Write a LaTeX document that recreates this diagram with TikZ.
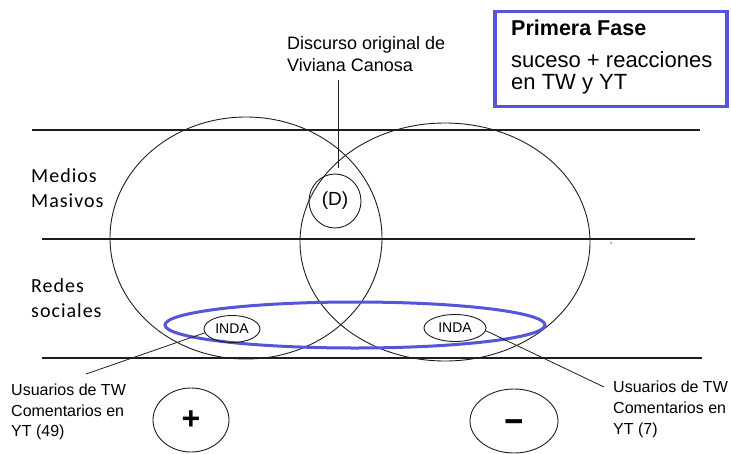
\documentclass[tikz,border=0pt]{standalone}
\usepackage{fontspec}
\setmainfont{Liberation Sans}
\newfontfamily\calfont[LetterSpace=5]{Carlito}
\usetikzlibrary{shapes.geometric}
\definecolor{bl}{RGB}{85,85,215}
\definecolor{ln}{RGB}{30,30,30}
\tikzset{
  oval/.style={ellipse, draw=ln, line width=0.9pt, inner sep=0pt},
  hline/.style={draw=ln, line width=1.2pt},
  lbl/.style={inner sep=0pt, anchor=base west},
  lead/.style={draw=ln, line width=0.8pt},
  fbox/.style={font=\fontsize{22}{22}\selectfont},
  fdisc/.style={font=\fontsize{18}{18}\selectfont},
  fside/.style={font=\calfont\fontsize{20}{20}\selectfont},
  fsmall/.style={font=\fontsize{16}{16}\selectfont},
}
\begin{document}
\begin{tikzpicture}[x=1pt,y=-1pt]
\useasboundingbox (0,0) rectangle (731,453);
% horizontal lines
\coordinate (t1) at (32,130); \coordinate (t2) at (700,130);
\coordinate (m1) at (42,239); \coordinate (m2) at (695,239);
\coordinate (b1) at (42,358); \coordinate (b2) at (702,358);
\draw[hline] (t1) -- (t2);
\draw[hline] (m1) -- (m2);
\draw[hline] (b1) -- (b2);
% big ellipses
\node[oval, minimum width=272pt, minimum height=242pt] (L) at (246,238) {};
\node[oval, minimum width=290pt, minimum height=238pt] (R) at (445,242) {};
% D circle
\node[oval, minimum width=52pt, minimum height=54pt, font=\fontsize{19}{19}\selectfont] (D) at (335,201) {(D)};
% blue ellipse
\node[ellipse, draw=bl, line width=3pt, inner sep=0pt, minimum width=380pt, minimum height=46pt] (B) at (355,325) {};
% INDA
\node[oval, minimum width=56pt, minimum height=27pt, font=\fontsize{14}{14}\selectfont] (IL) at (232,329) {INDA};
\node[oval, minimum width=62pt, minimum height=27pt, font=\fontsize{14}{14}\selectfont] (IR) at (455,328) {INDA};
% plus minus
\node[oval, minimum width=76pt, minimum height=64pt, font=\bfseries\fontsize{32}{32}\selectfont] (P) at (191,420) {+};
\node[oval, minimum width=88pt, minimum height=64pt, font=\bfseries\fontsize{34}{34}\selectfont] (M) at (514,421) {\smash{\raisebox{-9pt}{\scalebox{1.9}[1]{-}}}};
% title box
\node[draw=bl, line width=3.5pt, inner sep=0pt, minimum width=232pt, minimum height=95pt] (box) at (611,59) {};
\node[lbl, font=\bfseries\fontsize{21.5}{21.5}\selectfont] (bx1) at (511,35) {Primera Fase};
\node[lbl, fbox] (bx2) at (511,67) {suceso + reacciones};
\node[lbl, fbox] (bx3) at (511,89) {en TW y YT};
% discurso
\node[lbl, fdisc] (ds1) at (287,49) {Discurso original de};
\node[lbl, fdisc] (ds2) at (287,71) {Viviana Canosa};
\coordinate (dl) at (338,80);
\draw[lead, shorten >=6pt] (dl) -- (dl |- D.north);
% side labels
\node[lbl, fside] (s1) at (31,182) {Medios};
\node[lbl, fside] (s2) at (31,207) {Masivos};
\node[lbl, fside] (s3) at (31,292) {Redes};
\node[lbl, fside] (s4) at (31,317) {sociales};
% bottom labels
\node[lbl, fsmall] (ul1) at (11,395) {Usuarios de TW};
\node[lbl, fsmall] (ul2) at (11,416) {Comentarios en};
\node[lbl, fsmall] (ul3) at (11,436) {YT (49)};
\node[lbl, fsmall] (ur1) at (613,392) {Usuarios de TW};
\node[lbl, fsmall] (ur2) at (613,413) {Comentarios en};
\node[lbl, fsmall] (ur3) at (613,434) {YT (7)};
\coordinate (uL) at (86,374);
\coordinate (uR) at (604,387);
\draw[lead] (IL.188) -- (uL);
\draw[lead] (IR.-5) -- (uR);
% stray dot
\fill[gray] (611,243) circle (1pt);
\end{tikzpicture}
\end{document}
